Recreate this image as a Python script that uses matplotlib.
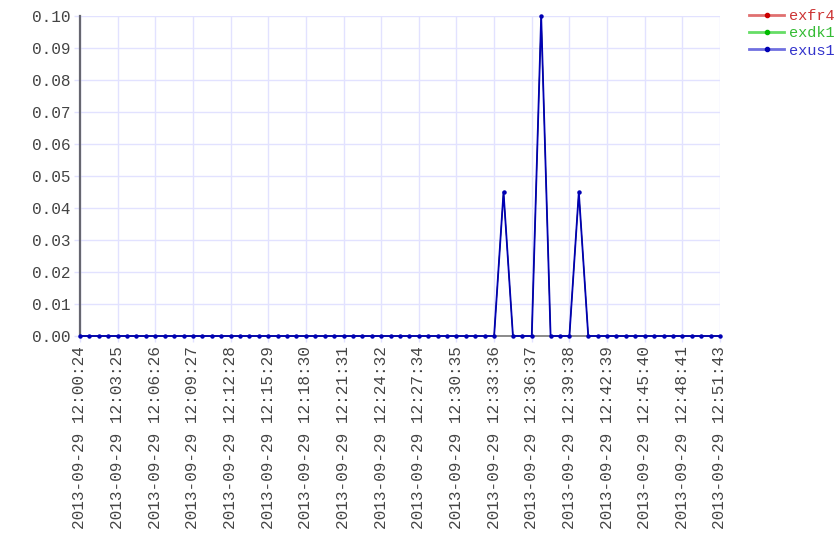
import matplotlib
matplotlib.use("Agg")
import matplotlib.pyplot as plt
from matplotlib.lines import Line2D

# x tick labels, one every 4th sample
TICK_LABELS = [
    "2013-09-29 12:00:24", "2013-09-29 12:03:25", "2013-09-29 12:06:26",
    "2013-09-29 12:09:27", "2013-09-29 12:12:28", "2013-09-29 12:15:29",
    "2013-09-29 12:18:30", "2013-09-29 12:21:31", "2013-09-29 12:24:32",
    "2013-09-29 12:27:34", "2013-09-29 12:30:35", "2013-09-29 12:33:36",
    "2013-09-29 12:36:37", "2013-09-29 12:39:38", "2013-09-29 12:42:39",
    "2013-09-29 12:45:40", "2013-09-29 12:48:41", "2013-09-29 12:51:43",
]
SAMPLES_PER_TICK = 4

# the three series overlap exactly, only exus1 is visible on top
exus1 = ([0.0] * 45
         + [0.045, 0.0, 0.0, 0.0, 0.1, 0.0, 0.0, 0.0, 0.045]
         + [0.0] * 15)
exfr4 = list(exus1)
exdk1 = list(exus1)

SERIES = [
    ("exfr4", exfr4, "#cc0000", "#e07070", "#cc3333"),
    ("exdk1", exdk1, "#00bb00", "#66dd66", "#33bb33"),
    ("exus1", exus1, "#0000b4", "#7070e0", "#3333cc"),
]

GRID = "#e2e2ff"
FONT = "Liberation Mono"
FSIZE = 11.6

fig = plt.figure(figsize=(8.4, 5.6), dpi=100)
ax = fig.add_axes([80 / 840, 1 - 336 / 560, 640 / 840, 320 / 560])

n = len(exus1)
xs = list(range(n))
for k, (name, vals, col, _, _) in enumerate(SERIES):
    top = k == len(SERIES) - 1
    ax.plot(xs, vals, color=col, linewidth=1.3 if top else 0.6,
            marker="o", markersize=2.2 if top else 1.2,
            clip_on=False, zorder=3 + k)

ax.set_xlim(0, n - 1)
ax.set_ylim(0, 0.10)
ax.set_yticks([i / 100 for i in range(11)])
ax.set_yticklabels([f"{i / 100:.2f}" for i in range(11)])
ax.set_xticks(list(range(0, n, SAMPLES_PER_TICK)))
ax.set_xticklabels(TICK_LABELS, rotation=90)

for lab in ax.get_xticklabels() + ax.get_yticklabels():
    lab.set_fontfamily(FONT)
    lab.set_fontsize(FSIZE)
    lab.set_color("#444444")

ax.grid(True, color=GRID, linewidth=1.0, zorder=0)
ax.tick_params(axis="both", color=GRID, length=4, width=1.0, pad=3)
for side in ["top", "right"]:
    ax.spines[side].set_visible(False)
ax.spines["left"].set_color("#666670")
ax.spines["left"].set_linewidth(1.6)
ax.spines["bottom"].set_color("#777777")
ax.spines["bottom"].set_linewidth(1.2)
ax.set_axisbelow(True)

handles = [Line2D([], [], color=lc, linewidth=2.0, marker="o", markersize=3,
                  markerfacecolor=c, markeredgecolor=c)
           for _, _, c, lc, _ in SERIES]
leg = fig.legend(handles, [s[0] for s in SERIES], loc="upper left",
                 bbox_to_anchor=(749 / 840, 1 - 9 / 560), frameon=False,
                 prop={"family": FONT, "size": 11}, handlelength=2.3,
                 handletextpad=0.35, labelspacing=0.22, borderaxespad=0,
                 borderpad=0)
for txt, s in zip(leg.get_texts(), SERIES):
    txt.set_color(s[4])

fig.savefig("out.png", dpi=100)
